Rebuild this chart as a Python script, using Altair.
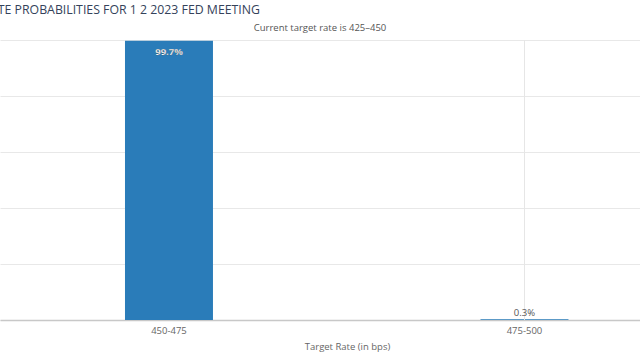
import altair as alt
import pandas as pd

# Data
categories = ["450-475", "475-500"]
probabilities = [99.7, 0.3]
prob_labels = ["99.7%", "0.3%"]
y_ticks = [0, 20, 40, 60, 80, 100]
hover_category = ["475-500"]

title_text = ["TARGET RATE PROBABILITIES FOR 1 2 2023 FED MEETING"]
subtitle_text = ["Current target rate is 425\u2013450"]

df = pd.DataFrame({"rate": categories, "prob": probabilities, "label": prob_labels})
df_hover = pd.DataFrame({"rate": hover_category})
df_sub = pd.DataFrame({"t": subtitle_text})
df_title = pd.DataFrame({"t": title_text})

FONT = "Open Sans"
BAR = "#2a7cb9"

x_scale = alt.Scale(domain=categories, paddingInner=0.7525, paddingOuter=0.2764, align=0.636)
y_scale = alt.Scale(domain=[0, 100], nice=False)

x_enc = alt.X(
    "rate:N",
    sort=categories,
    scale=x_scale,
    axis=alt.Axis(
        title="Target Rate (in bps)",
        titleFont=FONT,
        titleFontSize=9.5,
        titleFontWeight="normal",
        titleColor="#666666",
        titleX=347,
        titleY=29,
        titleBaseline="alphabetic",
        labelFont=FONT,
        labelFontSize=9.5,
        labelColor="#666666",
        labelAngle=0,
        labelPadding=5,
        ticks=False,
        domainColor="#c8c8c8",
        domainWidth=1.5,
        grid=False,
    ),
)
y_enc = alt.Y(
    "prob:Q",
    scale=y_scale,
    axis=alt.Axis(
        values=y_ticks,
        labels=False,
        ticks=False,
        domain=False,
        title=None,
        gridColor="#e8e8e8",
        gridWidth=1,
    ),
)

base = alt.Chart(df)

hover = alt.Chart(df_hover).mark_rule(color="#e6e6e6", strokeWidth=1).encode(
    x=alt.X("rate:N", sort=categories, scale=x_scale),
)

bars = base.mark_bar(color=BAR).encode(x=x_enc, y=y_enc)

inside = base.transform_filter("datum.prob >= 50").mark_text(
    baseline="alphabetic", dy=14, color="white", font=FONT, fontSize=9.5,
    fontWeight="bold", stroke="#555555", strokeWidth=0.25,
).encode(x=alt.X("rate:N", sort=categories, scale=x_scale), y=alt.Y("prob:Q", scale=y_scale), text="label:N")

outside = base.transform_filter("datum.prob < 50").mark_text(
    baseline="alphabetic", dy=-3, color="#555555", font=FONT, fontSize=9.5,
).encode(x=alt.X("rate:N", sort=categories, scale=x_scale), y=alt.Y("prob:Q", scale=y_scale), text="label:N")

subtitle = alt.Chart(df_sub).mark_text(
    baseline="alphabetic", align="center", color="#555555", font=FONT, fontSize=9.5,
).encode(x=alt.value(320), y=alt.value(-9), text="t:N")

title = alt.Chart(df_title).mark_text(
    baseline="alphabetic", align="right", color="#34425a", font=FONT, fontSize=12.3,
).encode(x=alt.value(260), y=alt.value(-26), text="t:N")

chart = (
    alt.layer(bars, hover, inside, outside, subtitle, title)
    .properties(
        width=640,
        height=280,
        autosize=alt.AutoSizeParams(type="none"),
        padding={"left": 0, "right": 0, "top": 40, "bottom": 40},
        background="white",
    )
    .configure_view(stroke=None)
)

chart.save("out.html", embed_options={"renderer": "svg", "actions": False})
